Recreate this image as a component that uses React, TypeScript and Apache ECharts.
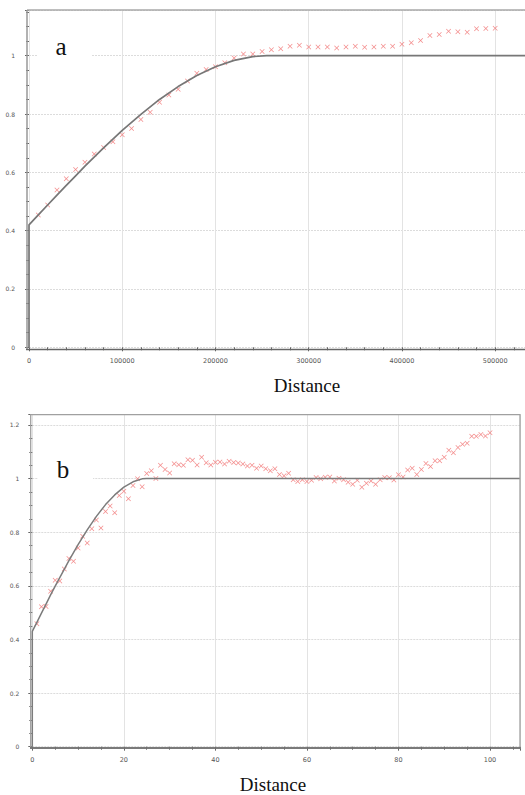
import React, { useEffect, useRef } from "react";
import * as echarts from "echarts";

// ---------- Chart a ----------
const distA = [
  10000, 20000, 30000, 40000, 50000, 60000, 70000, 80000, 90000, 100000,
  110000, 120000, 130000, 140000, 150000, 160000, 170000, 180000, 190000, 200000,
  210000, 220000, 230000, 240000, 250000, 260000, 270000, 280000, 290000, 300000,
  310000, 320000, 330000, 340000, 350000, 360000, 370000, 380000, 390000, 400000,
  410000, 420000, 430000, 440000, 450000, 460000, 470000, 480000, 490000, 500000,
];
const gammaA = [
  0.454, 0.488, 0.539, 0.578, 0.610, 0.635, 0.663, 0.685, 0.705, 0.729,
  0.750, 0.781, 0.806, 0.840, 0.865, 0.885, 0.913, 0.940, 0.953, 0.962,
  0.976, 0.992, 1.006, 1.006, 1.014, 1.020, 1.024, 1.032, 1.036, 1.030,
  1.030, 1.030, 1.026, 1.030, 1.032, 1.029, 1.030, 1.032, 1.032, 1.039,
  1.044, 1.052, 1.069, 1.073, 1.084, 1.082, 1.080, 1.092, 1.093, 1.094,
];
const modelDistA = [0, 0, 10000, 20000, 30000, 40000, 50000, 60000, 80000, 100000, 120000, 140000, 160000, 180000, 200000, 220000, 240000, 255000, 532000];
const modelA = [0, 0.42, 0.454, 0.488, 0.522, 0.555, 0.588, 0.621, 0.684, 0.744, 0.799, 0.850, 0.894, 0.932, 0.962, 0.984, 0.997, 1, 1];

// ---------- Chart b ----------
const distB = [
  1, 2, 3, 4, 5, 6, 7, 8, 9, 10, 11, 12, 13, 14, 15, 16, 17, 18, 19, 20,
  21, 22, 23, 24, 25, 26, 27, 28, 29, 30, 31, 32, 33, 34, 35, 36, 37, 38, 39, 40,
  41, 42, 43, 44, 45, 46, 47, 48, 49, 50, 51, 52, 53, 54, 55, 56, 57, 58, 59, 60,
  61, 62, 63, 64, 65, 66, 67, 68, 69, 70, 71, 72, 73, 74, 75, 76, 77, 78, 79, 80,
  81, 82, 83, 84, 85, 86, 87, 88, 89, 90, 91, 92, 93, 94, 95, 96, 97, 98, 99, 100,
];
const gammaB = [
  0.459, 0.522, 0.523, 0.580, 0.621, 0.618, 0.663, 0.702, 0.692, 0.741,
  0.785, 0.760, 0.813, 0.846, 0.816, 0.877, 0.898, 0.873, 0.937, 0.953,
  0.925, 0.974, 0.999, 0.970, 1.019, 1.029, 1.000, 1.050, 1.034, 1.021,
  1.055, 1.052, 1.050, 1.070, 1.068, 1.051, 1.080, 1.059, 1.051, 1.061,
  1.062, 1.054, 1.065, 1.060, 1.058, 1.054, 1.047, 1.050, 1.039, 1.047,
  1.037, 1.029, 1.037, 1.015, 1.011, 1.020, 0.996, 0.989, 0.996, 0.989,
  0.994, 1.004, 0.999, 1.005, 1.006, 0.991, 1.001, 0.996, 0.986, 0.979,
  0.994, 0.968, 0.983, 0.991, 0.979, 0.996, 1.004, 1.003, 0.995, 1.014,
  1.006, 1.032, 1.039, 1.015, 1.034, 1.056, 1.045, 1.067, 1.067, 1.080,
  1.106, 1.096, 1.116, 1.128, 1.132, 1.158, 1.158, 1.164, 1.159, 1.171,
];
const modelDistB = [0, 0, 1, 2, 3, 4, 5, 6, 8, 10, 12, 14, 16, 18, 20, 22, 24, 25, 106.55];
const modelB = [0, 0.43, 0.464, 0.498, 0.532, 0.566, 0.599, 0.631, 0.694, 0.754, 0.809, 0.859, 0.903, 0.939, 0.968, 0.988, 0.999, 1, 1];

const panelLabels = ["a", "b"];
const axisTitle = "Distance";

const CROSS = "path://M1,0L5,4L9,0L10,1L6,5L10,9L9,10L5,6L1,10L0,9L4,5L0,1Z";
const labelColor = "#555";
const tickColor = "#666";
const SERIF = "'Liberation Serif', 'DejaVu Serif', serif";

function pairs(xs: number[], ys: number[]) {
  return xs.map((x, i) => [x, ys[i]]);
}

function xAxisOf(gridIndex: number, max: number, interval: number, minorSplit: number, margin: number) {
  return {
    gridIndex,
    type: "value",
    min: 0,
    max,
    interval,
    offset: 2,
    axisLine: { show: false },
    axisTick: { show: true, length: 4, lineStyle: { color: tickColor, width: 1 } },
    minorTick: { show: true, splitNumber: minorSplit, length: 3, lineStyle: { color: tickColor, width: 1 } },
    splitLine: { show: true, lineStyle: { color: "#e3e3e3", width: 1 } },
    axisLabel: {
      fontSize: 6.5,
      fontFamily: "DejaVu Sans",
      color: labelColor,
      margin,
      showMaxLabel: false,
      formatter: (v: number) => String(v),
    },
  };
}

function yAxisOf(gridIndex: number, max: number, margin: number) {
  return {
    gridIndex,
    type: "value",
    min: 0,
    max,
    interval: 0.2,
    offset: 2,
    axisLine: { show: false },
    axisTick: { show: true, length: 4, lineStyle: { color: tickColor, width: 1 } },
    minorTick: { show: true, splitNumber: 4, length: 3, lineStyle: { color: tickColor, width: 1 } },
    splitLine: { show: true, lineStyle: { color: "#dcdcdc", width: 1, type: [2, 1] } },
    axisLabel: {
      fontSize: 6,
      fontFamily: "DejaVu Sans",
      color: labelColor,
      margin,
      showMaxLabel: false,
      formatter: (v: number) => String(Math.round(v * 10) / 10),
    },
  };
}

function textEl(text: string, x: number, y: number, size: number) {
  return {
    type: "text",
    z: 6,
    x,
    y,
    style: {
      text,
      fontSize: size,
      fontFamily: SERIF,
      fill: "#111",
      align: "center",
      verticalAlign: "middle",
    },
  };
}

export default function App() {
  const ref = useRef<HTMLDivElement>(null);

  useEffect(() => {
    if (!ref.current) return;
    const chart = echarts.init(ref.current, null, { renderer: "svg" });

    const scatterStyle = {
      type: "scatter",
      symbol: CROSS,
      symbolSize: 5,
      itemStyle: { color: "#f27d7d", opacity: 0.9 },
      z: 3,
    };

    chart.setOption({
      animation: false,
      backgroundColor: "#ffffff",
      grid: [
        { left: 29, top: 10, width: 496, height: 337.3 },
        { left: 32.3, top: 414.7, width: 487.7, height: 332 },
      ],
      xAxis: [
        xAxisOf(0, 532000, 100000, 5, 8),
        xAxisOf(1, 106.55, 20, 4, 8),
      ],
      yAxis: [
        yAxisOf(0, 1.1567, 12),
        yAxisOf(1, 1.2383, 11),
      ],
      series: [
        {
          ...scatterStyle,
          xAxisIndex: 0,
          yAxisIndex: 0,
          data: pairs(distA, gammaA),
        },
        {
          type: "line",
          xAxisIndex: 0,
          yAxisIndex: 0,
          data: pairs(modelDistA, modelA),
          showSymbol: false,
          symbol: "none",
          lineStyle: { color: "#777", width: 1.7 },
          z: 4,
        },
        {
          ...scatterStyle,
          xAxisIndex: 1,
          yAxisIndex: 1,
          data: pairs(distB, gammaB),
        },
        {
          type: "line",
          xAxisIndex: 1,
          yAxisIndex: 1,
          data: pairs(modelDistB, modelB),
          showSymbol: false,
          symbol: "none",
          lineStyle: { color: "#7c7c7c", width: 1.5 },
          z: 4,
        },
      ],
      graphic: [
        // white boxes behind panel letters
        { type: "rect", z: 1, shape: { x: 37, y: 33, width: 55, height: 34 }, style: { fill: "#ffffff" } },
        { type: "rect", z: 1, shape: { x: 38, y: 455, width: 55, height: 36 }, style: { fill: "#ffffff" } },
        // frame a
        { type: "line", z: 5, shape: { x1: 27, y1: 10, x2: 525, y2: 10 }, style: { stroke: "#a8a8a8", lineWidth: 1.5 } },
        { type: "line", z: 5, shape: { x1: 27, y1: 10, x2: 27, y2: 350 }, style: { stroke: "#999", lineWidth: 1.5 } },
        { type: "line", z: 5, shape: { x1: 26, y1: 349.5, x2: 525, y2: 349.5 }, style: { stroke: "#666", lineWidth: 1.6 } },
        // frame b
        { type: "rect", z: 5, shape: { x: 30.7, y: 414.7, width: 489.3, height: 333.3 }, style: { fill: "none", stroke: "#a0a0a0", lineWidth: 1.3 } },
        { type: "line", z: 5, shape: { x1: 30, y1: 748, x2: 520.5, y2: 748 }, style: { stroke: "#666", lineWidth: 1.5 } },
        // panel letters
        textEl(panelLabels[0], 61, 46, 25),
        textEl(panelLabels[1], 63, 469, 25),
        // axis titles
        textEl(axisTitle, 307, 385, 19),
        textEl(axisTitle, 273, 784, 19),
      ],
    });

    return () => chart.dispose();
  }, []);

  return (
    <div
      ref={ref}
      style={{ position: "absolute", left: 0, top: 0, width: 525, height: 795 }}
    />
  );
}
